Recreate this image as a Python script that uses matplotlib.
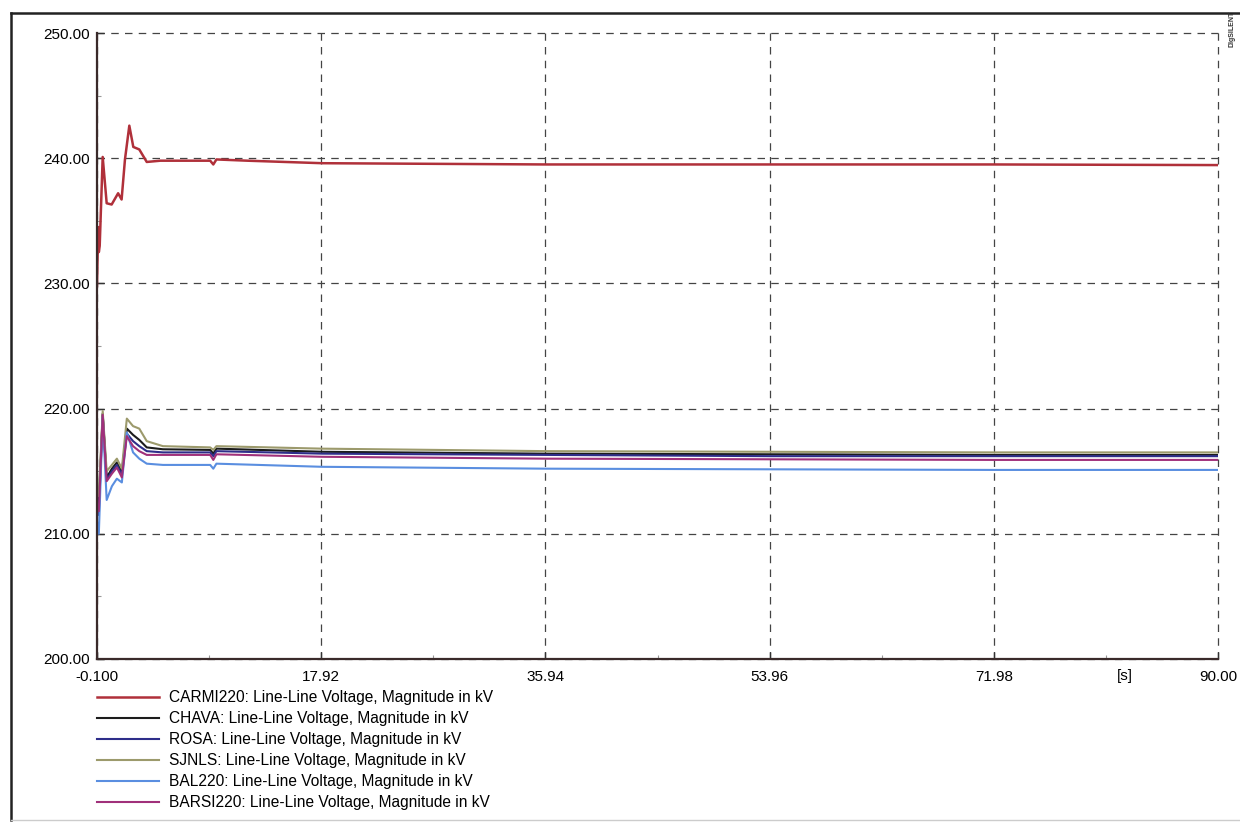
import numpy as np
import matplotlib
matplotlib.use("Agg")
import matplotlib.pyplot as plt
from matplotlib.lines import Line2D
from matplotlib.ticker import MultipleLocator, FixedLocator

plt.rcParams['font.family'] = ['Liberation Sans', 'DejaVu Sans']

# time points (s)
t_red = [-0.1, 0.0, 0.05, 0.12, 0.36, 0.68, 1.08, 1.6, 1.88, 2.15, 2.5, 2.82,
         3.3, 3.9, 5.0, 7.0, 9.0, 9.25, 9.5, 12.0, 18.0, 36.0, 54.0, 72.0, 90.0]
carmi = [229.8, 234.5, 232.5, 233.0, 240.1, 236.4, 236.3, 237.2, 236.7, 239.9, 242.6, 240.9,
         240.7, 239.7, 239.8, 239.8, 239.8, 239.5, 239.9, 239.8, 239.6, 239.5, 239.5, 239.5, 239.45]

t_low = [-0.1, 0.05, 0.36, 0.68, 1.1, 1.5, 1.9, 2.3, 2.8, 3.3, 3.9, 5.2,
         9.0, 9.25, 9.5, 18.0, 36.0, 54.0, 72.0, 90.0]
chava = [212.8, 212.5, 219.6, 214.5, 215.2, 215.7, 214.9, 218.4, 217.9, 217.5, 216.9, 216.75,
         216.7, 216.4, 216.8, 216.55, 216.4, 216.35, 216.3, 216.3]
rosa = [212.0, 211.5, 219.5, 214.3, 215.0, 215.5, 214.7, 218.0, 217.4, 217.0, 216.6, 216.5,
        216.5, 216.2, 216.6, 216.4, 216.3, 216.2, 216.2, 216.2]
sjnls = [213.3, 213.0, 219.8, 215.0, 215.5, 216.0, 215.2, 219.2, 218.6, 218.4, 217.4, 217.0,
         216.9, 216.7, 217.0, 216.8, 216.6, 216.55, 216.5, 216.5]
bal = [211.0, 210.0, 219.3, 212.7, 213.8, 214.4, 214.1, 218.1, 216.5, 216.0, 215.6, 215.5,
       215.5, 215.2, 215.6, 215.35, 215.2, 215.15, 215.1, 215.1]
barsi = [212.3, 211.8, 219.5, 214.2, 214.8, 215.3, 214.5, 217.8, 217.0, 216.6, 216.3, 216.3,
         216.3, 215.9, 216.35, 216.15, 216.0, 215.95, 215.9, 215.9]

x_ticks = [-0.1, 17.92, 35.94, 53.96, 71.98, 90.0]
x_labels = ['-0.100', '17.92', '35.94', '53.96', '71.98', '90.00']
y_ticks = [200, 210, 220, 230, 240, 250]

suffix = ': Line-Line Voltage, Magnitude in kV'
series = [
    ('CARMI220', t_red, carmi, '#b0303a', 1.8),
    ('CHAVA', t_low, chava, '#1c1c1c', 1.5),
    ('ROSA', t_low, rosa, '#2e2e8a', 1.5),
    ('SJNLS', t_low, sjnls, '#9c9a6c', 1.5),
    ('BAL220', t_low, bal, '#5a8ee0', 1.5),
    ('BARSI220', t_low, barsi, '#a0307a', 1.5),
]

fig = plt.figure(figsize=(12.4, 8.23), dpi=100)
ax = fig.add_axes([0.0782, 0.1993, 0.9041, 0.7606])

for name, t, v, c, w in series:
    ax.plot(t, v, color=c, lw=w, label=name + suffix)

ax.set_xlim(-0.1, 90.0)
ax.set_ylim(200, 250)
ax.set_xticks(x_ticks)
ax.set_xticklabels(x_labels)
ax.set_yticks(y_ticks)
ax.set_yticklabels(['%.2f' % y for y in y_ticks])
ax.xaxis.set_minor_locator(FixedLocator([(a + b) / 2 for a, b in zip(x_ticks[:-1], x_ticks[1:])]))
ax.yaxis.set_minor_locator(MultipleLocator(5))
ax.tick_params(which='major', direction='in', length=5, width=1, labelsize=11, color='#333333')
ax.tick_params(axis='x', which='major', pad=8)
ax.tick_params(axis='y', which='major', pad=5)
ax.tick_params(which='minor', direction='in', length=3, width=0.8, color='#999999')

ax.grid(True, which='major', linestyle=(0, (6, 5)), color='#444444', lw=0.9)
for gl in ax.get_xgridlines() + ax.get_ygridlines():
    gl.set_clip_on(False)
for s in ['top', 'right']:
    ax.spines[s].set_visible(False)
for s in ['left', 'bottom']:
    ax.spines[s].set_linewidth(1.6)
    ax.spines[s].set_color('#3a2a2a')

ax.text(0.917, -0.027, '[s]', transform=ax.transAxes, fontsize=11, ha='center', va='center')

fig.legend(loc='upper left', bbox_to_anchor=(0.0782, 0.161), frameon=False,
           fontsize=11.2, handlelength=4.0, handletextpad=0.65, labelspacing=0.38,
           borderpad=0, borderaxespad=0)

# outer frame of the exported page (left and top dark, bottom faint)
fx0, fy0, fy1 = 11 / 1240, 1 - 820 / 823, 1 - 13 / 823
fig.add_artist(Line2D([fx0, fx0], [fy0, fy1], transform=fig.transFigure, lw=1.8, color='#222222'))
fig.add_artist(Line2D([fx0, 1.0], [fy1, fy1], transform=fig.transFigure, lw=1.8, color='#222222'))
fig.add_artist(Line2D([fx0, 1.0], [fy0, fy0], transform=fig.transFigure, lw=1.0, color='#cccccc'))
fig.text(0.9935, 0.965, 'DIgSILENT', rotation=90, fontsize=5, fontweight='bold',
         ha='center', va='center', color='#333333')

fig.savefig('out.png', dpi=100)
